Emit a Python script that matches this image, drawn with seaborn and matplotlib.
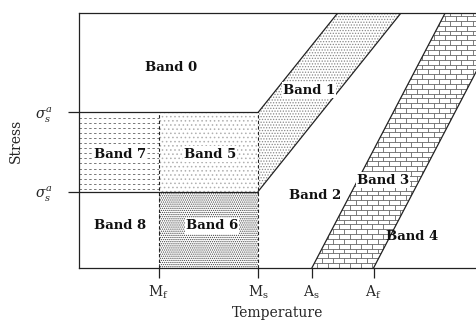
import numpy as np
import pandas as pd
import matplotlib
matplotlib.use("Agg")
import matplotlib.pyplot as plt
from matplotlib.patches import Polygon
from matplotlib.collections import LineCollection
import seaborn as sns

# ---- data ----
temp_ticks = [2.0, 4.5, 5.85, 7.4]          # Mf, Ms, As, Af
temp_labels = [r"$\mathrm{M_f}$", r"$\mathrm{M_s}$", r"$\mathrm{A_s}$", r"$\mathrm{A_f}$"]
stress_ticks = [3.0, 6.1]
stress_labels = [r"$\sigma_s^{a}$", r"$\sigma_s^{a}$"]
x_max, y_max = 10.0, 10.0

band1_top_x = [6.5, 8.09]      # top intersections of band 1 upper / lower edges
band3_top_x = [9.2, 10.75]     # top intersections of band 3 left / right edges

band_names = ["Band 0", "Band 1", "Band 2", "Band 3", "Band 4",
              "Band 5", "Band 6", "Band 7", "Band 8"]
band_x = [2.31, 5.78, 5.93, 7.64, 8.37, 3.29, 3.34, 1.03, 1.03]
band_y = [7.88, 6.98, 2.86, 3.45, 1.22, 4.47, 1.65, 4.47, 1.65]
boxed = [False, True, False, True, False, True, True, True, False]

Mf, Ms, As, Af = temp_ticks
s_lo, s_hi = stress_ticks

# ---- style ----
sns.set_theme(style="white")
plt.rcParams["font.family"] = ["DejaVu Serif"]
plt.rcParams["mathtext.fontset"] = "dejavuserif"
plt.rcParams["hatch.linewidth"] = 0.6

fig = plt.figure(figsize=(4.77, 3.21), dpi=100)
ax = fig.add_axes([0.1656, 0.165, 1 - 0.1656, 0.9595 - 0.165])
ax.set_xlim(0, x_max)
ax.set_ylim(0, y_max)

# ---- regions ----
band1 = Polygon([(Ms, s_lo), (Ms, s_hi), (band1_top_x[0], y_max), (band1_top_x[1], y_max)],
                closed=True, facecolor="white", edgecolor="#888888", lw=0, hatch="......")
band3 = Polygon([(As, 0), (band3_top_x[0], y_max), (band3_top_x[1], y_max), (Af, 0)],
                closed=True, facecolor="white", edgecolor="none", lw=0)
band5 = Polygon([(Mf, s_lo), (Mf, s_hi), (Ms, s_hi), (Ms, s_lo)],
                closed=True, facecolor="white", edgecolor="#b0b0b0", lw=0, hatch="....")
band6 = Polygon([(Mf, 0), (Mf, s_lo), (Ms, s_lo), (Ms, 0)],
                closed=True, facecolor="white", edgecolor="#444444", lw=0, hatch="........")
band7 = Polygon([(0, s_lo), (0, s_hi), (Mf, s_hi), (Mf, s_lo)],
                closed=True, facecolor="white", edgecolor="none", lw=0)
for p in [band1, band3, band5, band6, band7]:
    ax.add_patch(p)

# brick pattern for band 3
row_h, brick_w = 0.19, 0.28
segs = []
for i, yy in enumerate(np.arange(0, y_max + row_h, row_h)):
    segs.append([(As - 1, yy), (x_max + 1, yy)])
    off = (i % 2) * brick_w / 2
    for xx in np.arange(As - 1 + off, x_max + 1, brick_w):
        segs.append([(xx, yy), (xx, yy + row_h)])
lc = LineCollection(segs, colors="#666666", linewidths=0.6)
ax.add_collection(lc)
lc.set_clip_path(band3)

# dashed pattern for band 7
dsegs = []
for i, yy in enumerate(np.arange(s_lo + 0.1, s_hi, 0.2)):
    dsegs.append([(0, yy), (Mf, yy)])
dc = LineCollection(dsegs, colors="#777777", linewidths=0.7, linestyles=[(0, (2.5, 2.5))])
ax.add_collection(dc)
dc.set_clip_path(band7)

# ---- boundary lines ----
solid = pd.DataFrame({
    "seg": [0, 0, 1, 1, 2, 2, 3, 3, 4, 4, 5, 5],
    "x": [0, Ms, 0, Ms, Ms, band1_top_x[0], Ms, band1_top_x[1],
          As, band3_top_x[0], Af, band3_top_x[1]],
    "y": [s_hi, s_hi, s_lo, s_lo, s_hi, y_max, s_lo, y_max, 0, y_max, 0, y_max],
})
sns.lineplot(data=solid, x="x", y="y", units="seg", estimator=None, sort=False,
             color="#222222", lw=0.9, ax=ax)
dashed = pd.DataFrame({
    "seg": [0, 0, 1, 1],
    "x": [Mf, Mf, Ms, Ms],
    "y": [0, s_hi, 0, s_hi],
})
sns.lineplot(data=dashed, x="x", y="y", units="seg", estimator=None, sort=False,
             color="#222222", lw=0.8, ls=(0, (3, 2)), ax=ax)

# ---- labels ----
for name, bx, by, b in zip(band_names, band_x, band_y, boxed):
    kw = dict(bbox=dict(facecolor="white", edgecolor="none", pad=0.8)) if b else {}
    ax.text(bx, by, name, ha="center", va="center", fontsize=9.5, fontweight="bold",
            color="#111111", **kw)

ax.set_xticks(temp_ticks)
ax.set_xticklabels(temp_labels, fontsize=10)
ax.set_yticks(stress_ticks)
ax.set_yticklabels(stress_labels, fontsize=10)
ax.tick_params(axis="x", direction="out", length=7, width=0.9, color="#222222",
               bottom=True, pad=4)
ax.tick_params(axis="y", direction="out", length=8, width=0.9, color="#222222",
               left=True, pad=11)
ax.set_xlabel("Temperature", fontsize=10, labelpad=4)
ax.set_ylabel("Stress", fontsize=10, labelpad=9)

for s in ["left", "bottom", "top"]:
    ax.spines[s].set_visible(True)
    ax.spines[s].set_color("#222222")
    ax.spines[s].set_linewidth(0.9)
ax.spines["right"].set_visible(False)
ax.grid(False)

fig.savefig("out.png", dpi=100)
